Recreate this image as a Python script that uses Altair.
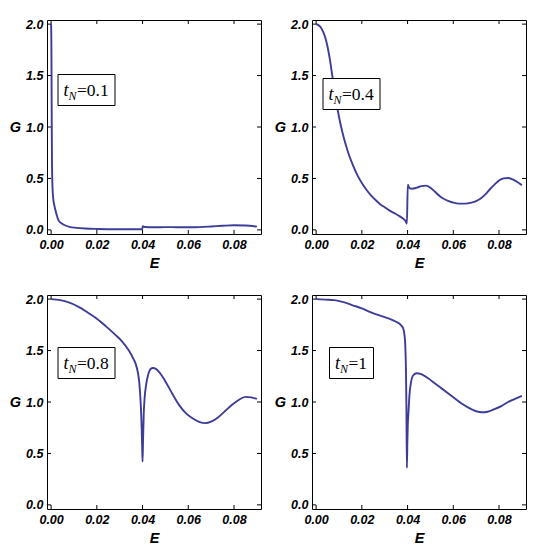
import altair as alt
import pandas as pd

# ---------------- data ----------------
E1 = [0, 0.0001, 0.0002, 0.0003, 0.0004, 0.0006, 0.0009, 0.0013, 0.0018, 0.0025,
      0.0033, 0.0045, 0.006, 0.008, 0.011, 0.015, 0.02, 0.03, 0.0398, 0.0401,
      0.041, 0.045, 0.05, 0.055, 0.06, 0.065, 0.07, 0.075, 0.08, 0.085, 0.09]
G1 = [2.0, 1.85, 1.45, 0.95, 0.62, 0.42, 0.31, 0.25, 0.20, 0.14,
      0.09, 0.065, 0.045, 0.03, 0.02, 0.013, 0.009, 0.006, 0.006, 0.035,
      0.028, 0.025, 0.027, 0.026, 0.025, 0.027, 0.033, 0.04, 0.045, 0.043, 0.032]

E2 = [0, 0.001, 0.002, 0.003, 0.004, 0.005, 0.006, 0.007, 0.008, 0.009, 0.010, 0.011, 0.012,
      0.013, 0.0145, 0.016, 0.018, 0.020, 0.022, 0.024, 0.026, 0.028, 0.030, 0.032, 0.034,
      0.036, 0.038, 0.039, 0.0397, 0.0401, 0.0407, 0.042, 0.044, 0.046, 0.048, 0.050, 0.052,
      0.054, 0.056, 0.058, 0.060, 0.0625, 0.065, 0.068, 0.070, 0.072, 0.074, 0.076, 0.078,
      0.080, 0.082, 0.084, 0.086, 0.088, 0.090]
G2 = [2.0, 1.99, 1.97, 1.93, 1.87, 1.78, 1.66, 1.51, 1.36, 1.22, 1.10, 0.995, 0.905,
      0.825, 0.72, 0.635, 0.535, 0.455, 0.39, 0.335, 0.29, 0.25, 0.22, 0.19, 0.165,
      0.14, 0.11, 0.09, 0.06, 0.44, 0.41, 0.40, 0.41, 0.425, 0.43, 0.41, 0.37,
      0.33, 0.30, 0.28, 0.265, 0.255, 0.255, 0.265, 0.28, 0.305, 0.345, 0.395, 0.44,
      0.48, 0.50, 0.505, 0.49, 0.465, 0.435]

E3 = [0, 0.004, 0.008, 0.012, 0.016, 0.020, 0.024, 0.028, 0.031, 0.034,
      0.036, 0.037, 0.038, 0.0386, 0.0392, 0.0396, 0.0398, 0.0400, 0.0402, 0.0405,
      0.0409, 0.0415, 0.0425, 0.0435, 0.0445, 0.046, 0.048, 0.050, 0.053, 0.056,
      0.059, 0.062, 0.065, 0.0675, 0.070, 0.073, 0.076, 0.079, 0.082, 0.085,
      0.0875, 0.090]
G3 = [2.0, 1.99, 1.965, 1.925, 1.87, 1.81, 1.735, 1.655, 1.59, 1.50,
      1.42, 1.37, 1.28, 1.18, 0.98, 0.75, 0.58, 0.42, 0.62, 0.88,
      1.04, 1.16, 1.27, 1.32, 1.33, 1.32, 1.27, 1.20, 1.08, 0.97,
      0.89, 0.84, 0.805, 0.795, 0.81, 0.85, 0.91, 0.97, 1.02, 1.05,
      1.045, 1.03]

E4 = [0, 0.004, 0.008, 0.012, 0.016, 0.020, 0.024, 0.028, 0.032, 0.035, 0.037,
      0.0380, 0.0386, 0.0390, 0.0393, 0.0395, 0.0397, 0.0399, 0.0401, 0.0404, 0.0408,
      0.0415, 0.0425, 0.0440, 0.046, 0.049, 0.052, 0.055, 0.058, 0.061, 0.064, 0.067,
      0.070, 0.0725, 0.075, 0.078, 0.081, 0.084, 0.087, 0.090]
G4 = [2.0, 1.995, 1.99, 1.97, 1.94, 1.91, 1.87, 1.84, 1.81, 1.78, 1.75,
      1.72, 1.66, 1.55, 1.30, 0.95, 0.36, 0.60, 0.78, 0.90, 1.06,
      1.19, 1.26, 1.28, 1.27, 1.23, 1.18, 1.13, 1.08, 1.03, 0.98, 0.94,
      0.91, 0.90, 0.905, 0.93, 0.96, 1.0, 1.03, 1.06]

T_VALUES = ["0.1", "0.4", "0.8", "1"]

X_TICKS = [0.00, 0.02, 0.04, 0.06, 0.08]
Y_TICKS = [0.0, 0.5, 1.0, 1.5, 2.0]

# ---------------- style / layout ----------------
W, H = 214, 214
LINE_COLOR = "#3d3d99"
X_DOMAIN = [-0.0018, 0.0918]
Y_DOMAIN = [-0.04, 2.04]
TICK_LEN = 4
SANS = "Liberation Sans"
SERIF = "Liberation Serif"


def panel(E, G, tval, box_cy):
    xs = alt.Scale(domain=X_DOMAIN, nice=False, zero=False)
    ys = alt.Scale(domain=Y_DOMAIN, nice=False, zero=False)
    xaxis = alt.Axis(title="E", values=X_TICKS, format=".2f", ticks=False, domain=False,
                     grid=False, labelPadding=4, titlePadding=6)
    yaxis = alt.Axis(title="G", values=Y_TICKS, format=".1f", ticks=False, domain=False,
                     grid=False, labelPadding=4, titlePadding=5, titleAngle=0,
                     titleAlign="right", titleBaseline="middle")

    df = pd.DataFrame({"E": E, "G": G})
    line = alt.Chart(df).mark_line(color=LINE_COLOR, strokeWidth=1.9,
                                   interpolate="monotone").encode(
        x=alt.X("E:Q", scale=xs, axis=xaxis),
        y=alt.Y("G:Q", scale=ys, axis=yaxis),
    )

    xt = pd.DataFrame({"E": X_TICKS})
    yt = pd.DataFrame({"G": Y_TICKS})
    rule = dict(color="black", strokeWidth=1)
    bottom = alt.Chart(xt).mark_rule(**rule).encode(
        x=alt.X("E:Q", scale=xs), y=alt.value(H), y2=alt.value(H - TICK_LEN))
    top = alt.Chart(xt).mark_rule(**rule).encode(
        x=alt.X("E:Q", scale=xs), y=alt.value(0), y2=alt.value(TICK_LEN))
    left = alt.Chart(yt).mark_rule(**rule).encode(
        y=alt.Y("G:Q", scale=ys), x=alt.value(0), x2=alt.value(TICK_LEN))
    right = alt.Chart(yt).mark_rule(**rule).encode(
        y=alt.Y("G:Q", scale=ys), x=alt.value(W), x2=alt.value(W - TICK_LEN))

    # framed label  t_N = value
    bw = 57 if len(tval) > 1 else 44
    bh = 31
    cx = 39.5
    bl = cx - bw / 2
    lab = pd.DataFrame({"t": ["=" + tval]})
    box = alt.Chart(lab).mark_rect(fill="white", stroke="black", strokeWidth=1).encode(
        x=alt.value(bl), x2=alt.value(bl + bw),
        y=alt.value(box_cy - bh / 2), y2=alt.value(box_cy + bh / 2))
    t_txt = alt.Chart(lab).mark_text(font=SERIF, fontSize=18, fontStyle="italic",
                                     align="left", baseline="alphabetic", color="black").encode(
        x=alt.value(bl + 5.5), y=alt.value(box_cy + 6), text=alt.value("t"))
    n_txt = alt.Chart(lab).mark_text(font=SERIF, fontSize=12, fontStyle="italic",
                                     align="left", baseline="alphabetic", color="black").encode(
        x=alt.value(bl + 10.5), y=alt.value(box_cy + 10), text=alt.value("N"))
    v_txt = alt.Chart(lab).mark_text(
        font=SERIF, fontSize=17.5, align="left", baseline="alphabetic", color="black").encode(
        x=alt.value(bl + 19), y=alt.value(box_cy + 6), text=alt.Text("t:N"))

    return alt.layer(line, bottom, top, left, right, box, t_txt, n_txt, v_txt).properties(
        width=W, height=H)


p1 = panel(E1, G1, T_VALUES[0], 70)
p2 = panel(E2, G2, T_VALUES[1], 74)
p3 = panel(E3, G3, T_VALUES[2], 68)
p4 = panel(E4, G4, T_VALUES[3], 68)

row1 = alt.hconcat(p1, p2, spacing=11)
row2 = alt.hconcat(p3, p4, spacing=11)

chart = alt.vconcat(row1, row2, spacing=21).properties(
    padding={"left": 0, "top": 9, "right": 0, "bottom": 0}
).configure_view(
    stroke="black", strokeWidth=1
).configure_axis(
    labelFont=SANS, labelFontSize=12.5, labelFontWeight="bold", labelFontStyle="italic",
    labelColor="black",
    titleFont=SANS, titleFontSize=14.5, titleFontWeight="bold", titleFontStyle="italic",
    titleColor="black",
)

chart.save("out.html", embed_options={"renderer": "svg", "actions": False})
